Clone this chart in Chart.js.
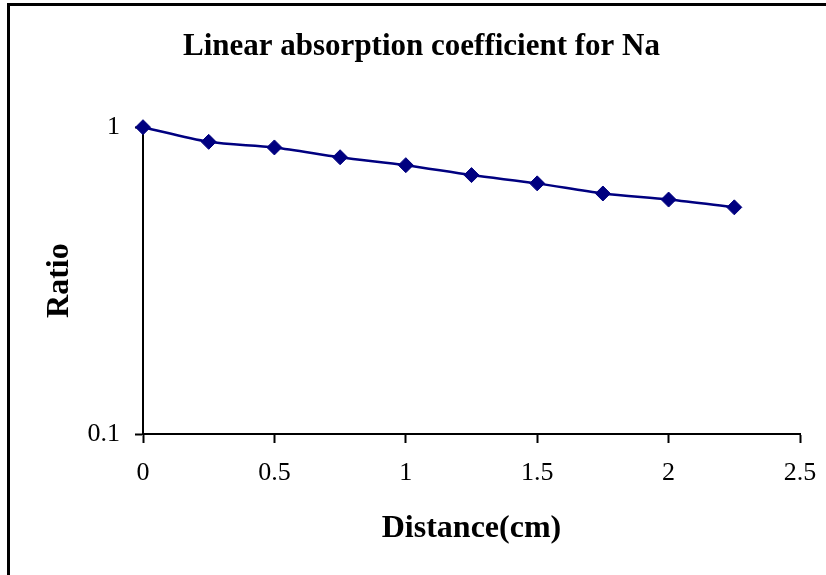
<!DOCTYPE html>
<html>
<head>
<meta charset="utf-8">
<script src="https://cdn.jsdelivr.net/npm/chart.js@4"></script>
<style>
  html, body { margin: 0; padding: 0; background: #fff; overflow: hidden; }
  #frame {
    position: absolute;
    left: 7px;
    top: 3px;
    width: 819px;
    height: 572px;
    border-left: 3px solid #000;
    border-top: 3px solid #000;
  }
  #wrap { position: absolute; left: 10px; top: 6px; width: 816px; height: 569px; }
</style>
</head>
<body>
<div id="frame"></div>
<div id="wrap"><canvas id="chartNa"></canvas></div>
<script>
// distance (cm) and measured intensity ratio
var distancia = [0, 0.25, 0.5, 0.75, 1.0, 1.25, 1.5, 1.75, 2.0, 2.25];
var razao = [1.0, 0.896, 0.859, 0.798, 0.752, 0.698, 0.656, 0.608, 0.581, 0.548];
var ticksY = [0.1, 1];

var pontos = distancia.map(function (d, i) { return { x: d, y: razao[i] }; });

var fonte = "'Liberation Serif', 'Times New Roman', serif";

new Chart(document.getElementById('chartNa'), {
    type: 'line',
    data: {
        datasets: [{
            label: 'Na',
            data: pontos,
            borderColor: '#000080',
            backgroundColor: '#000080',
            borderWidth: 2.5,
            pointStyle: 'rectRot',
            pointRadius: 7.5,
            pointBorderWidth: 1,
            tension: 0.3,
            clip: false
        }]
    },
    options: {
        responsive: true,
        maintainAspectRatio: false,
        animation: false,
        layout: {
            padding: { left: 33, right: 26, top: 0, bottom: 0 }
        },
        plugins: {
            legend: { display: false },
            tooltip: { enabled: false },
            title: {
                display: true,
                text: 'Linear absorption coefficient for Na',
                color: '#000',
                font: { family: fonte, size: 31, weight: 'bold', lineHeight: 1.2 },
                padding: { top: 22, bottom: 62 }
            }
        },
        scales: {
            x: {
                type: 'linear',
                min: 0,
                max: 2.5,
                afterFit: function (s) {
                    s.height = 141;
                    // o último rótulo cabe na margem direita
                    s.paddingRight = 0;
                },
                ticks: {
                    stepSize: 0.5,
                    color: '#000',
                    font: { family: fonte, size: 26 },
                    padding: 15,
                    maxRotation: 0,
                    callback: function (v) { return String(v); }
                },
                grid: {
                    drawOnChartArea: false,
                    drawTicks: true,
                    tickLength: 9,
                    tickColor: '#000',
                    tickWidth: 2
                },
                border: { display: true, color: '#000', width: 2 },
                title: {
                    display: true,
                    text: 'Distance(cm)',
                    color: '#000',
                    font: { family: fonte, size: 32, weight: 'bold' },
                    padding: { top: 0, bottom: 27 }
                }
            },
            y: {
                type: 'logarithmic',
                min: 0.1,
                max: 1,
                afterFit: function (s) { s.width = 100; },
                afterBuildTicks: function (s) {
                    s.ticks = ticksY.map(function (v) { return { value: v }; });
                },
                ticks: {
                    color: '#000',
                    font: { family: fonte, size: 26 },
                    padding: 15,
                    callback: function (v) { return String(v); }
                },
                grid: {
                    drawOnChartArea: false,
                    drawTicks: true,
                    tickLength: 8,
                    tickColor: '#000',
                    tickWidth: 2
                },
                border: { display: true, color: '#000', width: 2 },
                title: {
                    display: true,
                    text: 'Ratio',
                    color: '#000',
                    font: { family: fonte, size: 32, weight: 'bold', lineHeight: 1 },
                    padding: { top: 1, bottom: 0 }
                }
            }
        }
    }
});
</script>
</body>
</html>
